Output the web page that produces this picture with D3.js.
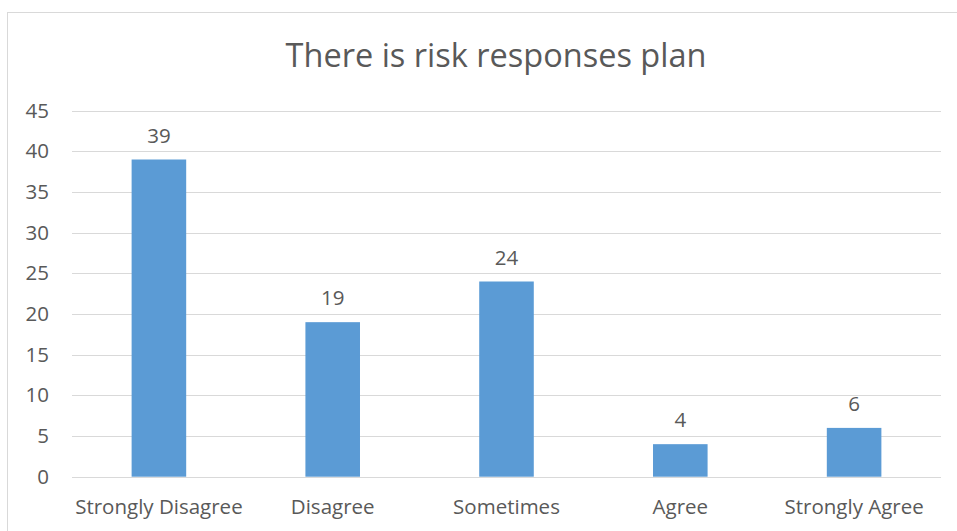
<!DOCTYPE html>
<html>
<head>
<meta charset="utf-8">
<script src="https://cdn.jsdelivr.net/npm/d3@7"></script>
<style>
  html, body { margin: 0; padding: 0; background: #fff; }
  svg { display: block; }
  text { font-family: "Open Sans", sans-serif; fill: #595959; }
</style>
</head>
<body>
<svg id="chart" width="957" height="531"></svg>
<script>
const categories = ["Strongly Disagree", "Disagree", "Sometimes", "Agree", "Strongly Agree"];
const values = [39, 19, 24, 4, 6];
const yTicks = [0, 5, 10, 15, 20, 25, 30, 35, 40, 45];
const title = "There is risk responses plan";

const svg = d3.select("#chart");
const W = 957, H = 531;
const plot = { left: 72, right: 941, top: 110.7, bottom: 476.7 };
const font = "'Open Sans', sans-serif";
const labelSize = "20.5px";

// chart frame
svg.append("rect")
  .attr("x", 7.5).attr("y", 12.5)
  .attr("width", W).attr("height", H)
  .attr("fill", "none").attr("stroke", "#D9D9D9").attr("stroke-width", 1);

const x = d3.scaleBand()
  .domain(categories)
  .range([plot.left, plot.right])
  .paddingInner(0.686)
  .paddingOuter(0.343);

const y = d3.scaleLinear()
  .domain([0, 45])
  .range([plot.bottom, plot.top]);

// gridlines
svg.append("g")
  .selectAll("line")
  .data(yTicks)
  .join("line")
  .attr("x1", plot.left).attr("x2", plot.right)
  .attr("y1", d => Math.round(y(d)) + 0.5).attr("y2", d => Math.round(y(d)) + 0.5)
  .attr("stroke", "#D9D9D9").attr("stroke-width", 1);

// y axis labels
const yAxis = d3.axisLeft(y).tickValues(yTicks).tickSize(0).tickPadding(0);
const gy = svg.append("g").attr("transform", `translate(49,0)`).call(yAxis);
gy.select(".domain").remove();
gy.selectAll("text").style("font-size", labelSize).attr("fill", "#595959")
  .style("font-family", font);

// x axis labels
const xAxis = d3.axisBottom(x).tickSize(0).tickPadding(0);
const gx = svg.append("g").attr("transform", `translate(0,${plot.bottom + 23})`).call(xAxis);
gx.select(".domain").remove();
gx.selectAll("text").style("font-size", labelSize).attr("fill", "#595959")
  .style("font-family", font);

// bars
svg.append("g")
  .selectAll("rect")
  .data(values)
  .join("rect")
  .attr("x", (d, i) => x(categories[i]))
  .attr("y", d => y(d))
  .attr("width", x.bandwidth())
  .attr("height", d => y(0) - y(d))
  .attr("fill", "#5B9BD5");

// value labels
svg.append("g")
  .selectAll("text")
  .data(values)
  .join("text")
  .attr("x", (d, i) => x(categories[i]) + x.bandwidth() / 2)
  .attr("y", d => y(d) - 17)
  .attr("text-anchor", "middle")
  .style("font-size", labelSize)
  .text(d => d);

// title
svg.append("text")
  .attr("x", 496).attr("y", 67)
  .attr("text-anchor", "middle")
  .style("font-size", "32.5px")
  .text(title);
</script>
</body>
</html>
